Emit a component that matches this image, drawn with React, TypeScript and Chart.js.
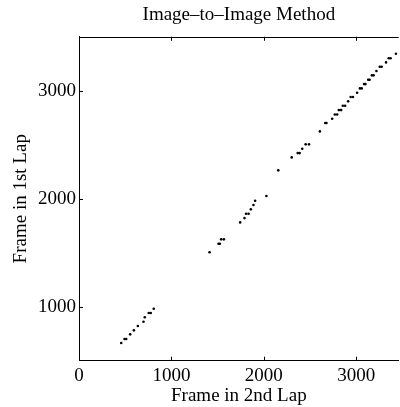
import React, { useEffect, useRef } from "react";
import { Chart, registerables } from "chart.js";

Chart.register(...registerables);

const titleText = "Image–to–Image Method";
const xTitle = "Frame in 2nd Lap";
const yTitle = "Frame in 1st Lap";

const xTickValues = [0, 1000, 2000, 3000];
const yTickValues = [1000, 2000, 3000];

// Frame in 2nd Lap (x) and matched Frame in 1st Lap (y)
const frame2nd = [
  457, 493, 511, 554, 594, 637, 698, 712, 755, 777, 809,
  1413, 1510, 1525, 1539, 1568, 1744, 1791, 1808, 1835, 1860, 1888, 1906, 2028,
  2157, 2302, 2367, 2388, 2416, 2453, 2489, 2607, 2665, 2678,
  2740, 2769, 2794, 2812, 2837, 2855, 2880, 2913, 2940, 2965, 3010, 3040, 3060,
  3085, 3100, 3130, 3145, 3170, 3188, 3219, 3255, 3275, 3323, 3352, 3372, 3430,
];
const frame1st = [
  664, 701, 701, 744, 781, 821, 861, 902, 942, 942, 981,
  1504, 1583, 1583, 1624, 1624, 1781, 1821, 1861, 1861, 1902, 1942, 1981, 2025,
  2263, 2383, 2423, 2423, 2463, 2504, 2504, 2624, 2702, 2702,
  2741, 2781, 2781, 2821, 2821, 2861, 2861, 2902, 2942, 2942, 2982, 3022, 3022,
  3062, 3062, 3102, 3102, 3143, 3143, 3183, 3222, 3222, 3263, 3302, 3302, 3343,
];

const FONT = "'Liberation Serif', 'Times New Roman', serif";

const boxTicks = {
  id: "boxTicks",
  afterDraw(chart: any) {
    const { ctx, chartArea, scales } = chart;
    const { left, right, top, bottom } = chartArea;
    const x = scales.x;
    const y = scales.y;
    const tl = 4;
    ctx.save();
    ctx.strokeStyle = "#000";
    ctx.lineWidth = 1;
    ctx.beginPath();
    ctx.moveTo(left, Math.round(top) + 0.5);
    ctx.lineTo(right, Math.round(top) + 0.5);
    xTickValues.forEach((v) => {
      const px = Math.round(x.getPixelForValue(v)) + 0.5;
      ctx.moveTo(px, bottom);
      ctx.lineTo(px, bottom - tl);
      ctx.moveTo(px, top);
      ctx.lineTo(px, top + tl);
    });
    yTickValues.forEach((v) => {
      const py = Math.round(y.getPixelForValue(v)) + 0.5;
      ctx.moveTo(left, py);
      ctx.lineTo(left + tl, py);
    });
    ctx.stroke();
    ctx.restore();
  },
};

export default function App() {
  const ref = useRef<HTMLCanvasElement | null>(null);

  useEffect(() => {
    if (!ref.current) return;
    const points = frame2nd.map((v, i) => ({ x: v, y: frame1st[i] }));
    const chart = new Chart(ref.current, {
      type: "scatter",
      data: {
        datasets: [
          {
            data: points,
            backgroundColor: "#000",
            borderColor: "#000",
            borderWidth: 0,
            pointRadius: 1.3,
            pointHoverRadius: 1.3,
          },
        ],
      },
      options: {
        animation: false,
        responsive: false,
        devicePixelRatio: 1,
        layout: { padding: 0 },
        plugins: {
          legend: { display: false },
          tooltip: { enabled: false },
          title: {
            display: true,
            text: titleText,
            fullSize: false,
            color: "#000",
            font: { family: FONT, size: 19, weight: "normal" },
            padding: { top: 4, bottom: 10 },
          },
        },
        scales: {
          x: {
            type: "linear",
            position: "bottom",
            min: 0,
            max: 3460,
            grid: { display: false, drawTicks: false },
            border: { display: true, color: "#000", width: 1 },
            afterBuildTicks: (s: any) => {
              s.ticks = xTickValues.map((v) => ({ value: v }));
            },
            afterFit: (s: any) => {
              s.height = 46.3;
            },
            ticks: {
              color: "#000",
              padding: 4,
              maxRotation: 0,
              autoSkip: false,
              font: { family: FONT, size: 19 },
              callback: (v: any) => String(v),
            },
            title: {
              display: true,
              text: xTitle,
              color: "#000",
              font: { family: FONT, size: 19 },
              padding: { top: 0, bottom: 0 },
            },
          },
          y: {
            type: "linear",
            position: "left",
            min: 500,
            max: 3500,
            grid: { display: false, drawTicks: false },
            border: { display: true, color: "#000", width: 1 },
            afterBuildTicks: (s: any) => {
              s.ticks = yTickValues.map((v) => ({ value: v }));
            },
            afterFit: (s: any) => {
              s.width = 79;
            },
            ticks: {
              color: "#000",
              padding: 3,
              autoSkip: false,
              font: { family: FONT, size: 19 },
              callback: (v: any) => String(v),
            },
            title: {
              display: true,
              text: yTitle,
              color: "#000",
              font: { family: FONT, size: 19 },
              padding: { top: 10, bottom: 0 },
            },
          },
        },
      },
      plugins: [boxTicks],
    });
    return () => chart.destroy();
  }, []);

  return (
    <div style={{ position: "fixed", left: 0, top: 0, width: 400, height: 407, background: "#fff" }}>
      <canvas ref={ref} width={400} height={407} />
    </div>
  );
}
